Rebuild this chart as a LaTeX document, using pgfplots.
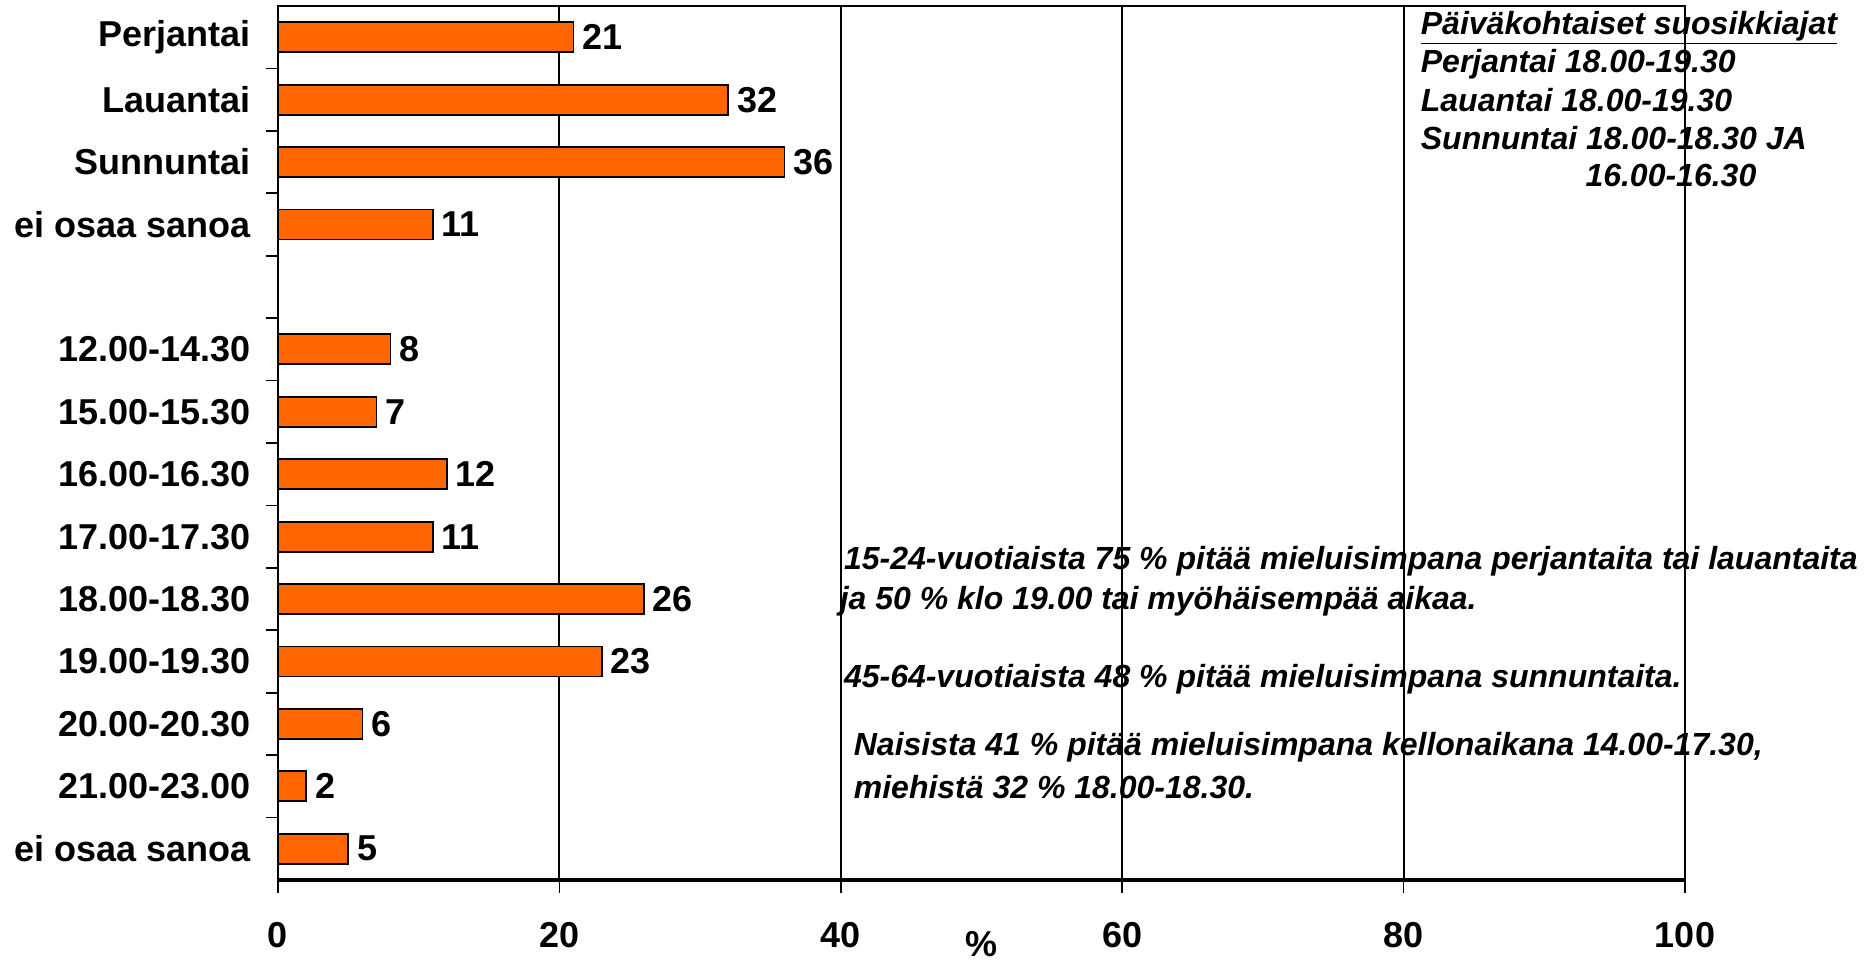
\documentclass[border=0pt]{standalone}
\usepackage{fontspec}
\setmainfont{Liberation Sans}
\usepackage{pgfplots}
\pgfplotsset{compat=1.18}
\definecolor{barorange}{HTML}{FF6600}
\newcommand{\lblfont}{\bfseries\fontsize{18}{21}\selectfont}
\newcommand{\notefont}{\bfseries\itshape\fontsize{16}{19}\selectfont}

\begin{document}
\begin{tikzpicture}
\begin{axis}[
    scale only axis,
    width=703.5pt,
    height=437pt,
    xbar,
    bar width=15pt,
    xmin=0, xmax=100,
    ymin=-0.5, ymax=13.5,
    y dir=reverse,
    xtick={0,20,40,60,80,100},
    ytick={0,1,2,3,5,6,7,8,9,10,11,12,13},
    yticklabels={Perjantai,Lauantai,Sunnuntai,ei osaa sanoa,12.00-14.30,15.00-15.30,16.00-16.30,17.00-17.30,18.00-18.30,19.00-19.30,20.00-20.30,21.00-23.00,ei osaa sanoa},
    minor ytick={0.5,1.5,2.5,3.5,4.5,5.5,6.5,7.5,8.5,9.5,10.5,11.5,12.5},
    xtick pos=lower,
    ytick pos=left,
    tick align=outside,
    major tick length=6.5pt,
    minor tick length=6pt,
    major y tick style={draw=none},
    minor y tick style={black, line width=0.8pt},
    major x tick style={black, line width=0.8pt},
    xmajorgrids,
    major grid style={black, line width=0.9pt},
    axis line style={black, line width=0.9pt},
    ticklabel style={font=\lblfont},
    /pgf/number format/assume math mode=true,
    yticklabel style={xshift=-3.8pt},
    xticklabel style={yshift=-11pt},
    xlabel={\%},
    xlabel style={font=\lblfont, at={(axis description cs:0.5,0)}, anchor=center, yshift=-32pt},
    nodes near coords,
    nodes near coords style={font=\lblfont, black, inner xsep=4pt},
    clip=false,
]
\addplot[fill=barorange, draw=black, line width=0.9pt] coordinates {
    (21,0) (32,1) (36,2) (11,3)
    (8,5) (7,6) (12,7) (11,8) (26,9) (23,10) (6,11) (2,12) (5,13)
};
\draw[black, line width=2pt] (axis cs:0,13.5) -- (axis cs:100,13.5);

\node[anchor=west, font=\notefont, inner sep=0pt] at (axis cs:81.2,-0.15) {\underline{Päiväkohtaiset suosikkiajat}};
\node[anchor=west, font=\notefont, inner sep=0pt] at (axis cs:81.2,0.43) {Perjantai 18.00-19.30};
\node[anchor=west, font=\notefont, inner sep=0pt] at (axis cs:81.2,1.01) {Lauantai 18.00-19.30};
\node[anchor=west, font=\notefont, inner sep=0pt] at (axis cs:81.2,1.61) {Sunnuntai 18.00-18.30 JA};
\node[anchor=west, font=\notefont, inner sep=0pt] at (axis cs:92.9,2.22) {16.00-16.30};

\node[anchor=west, font=\notefont, inner sep=0pt] at (axis cs:40.2,8.40) {15-24-vuotiaista 75 \% pitää mieluisimpana perjantaita tai lauantaita};
\node[anchor=west, font=\notefont, inner sep=0pt] at (axis cs:39.9,9.04) {ja 50 \% klo 19.00 tai myöhäisempää aikaa.};
\node[anchor=west, font=\notefont, inner sep=0pt] at (axis cs:40.2,10.29) {45-64-vuotiaista 48 \% pitää mieluisimpana sunnuntaita.};
\node[anchor=west, font=\notefont, inner sep=0pt] at (axis cs:40.9,11.37) {Naisista 41 \% pitää mieluisimpana kellonaikana 14.00-17.30,};
\node[anchor=west, font=\notefont, inner sep=0pt] at (axis cs:40.9,12.01) {miehistä 32 \% 18.00-18.30.};
\end{axis}
\path ([shift={(-139pt,-41.5pt)}]current axis.south west) rectangle ([shift={(89.5pt,3pt)}]current axis.north east);
\end{tikzpicture}
\end{document}
